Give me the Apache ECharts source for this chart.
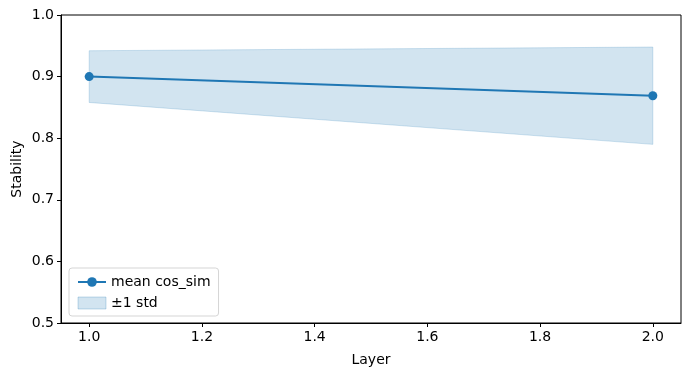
<!DOCTYPE html>
<html>
<head>
<meta charset="utf-8">
<script src="https://cdn.jsdelivr.net/npm/echarts@6/dist/echarts.min.js"></script>
<style>
  html, body { margin: 0; padding: 0; background: #fff; }
  #container { width: 691px; height: 376px; }
</style>
</head>
<body>
<div id="container"></div>
<script>
var layers = [1, 2];
var meanCos = [0.900, 0.869];
var upperBand = [0.942, 0.948];
var lowerBand = [0.858, 0.790];
var xTicks = [1.0, 1.2, 1.4, 1.6, 1.8, 2.0];

var dom = document.getElementById("container");
var myChart = echarts.init(dom);

var blue = '#1f77b4';
var font = 'DejaVu Sans';

var meanData = layers.map(function (x, i) { return [x, meanCos[i]]; });
var bandData = layers.map(function (x, i) { return [x, lowerBand[i], upperBand[i]]; });

function renderBand(params, api) {
    if (params.dataIndex !== 0) return;
    var top = [], bottom = [];
    for (var i = 0; i < bandData.length; i++) {
        top.push(api.coord([bandData[i][0], bandData[i][2]]));
        bottom.unshift(api.coord([bandData[i][0], bandData[i][1]]));
    }
    return {
        type: 'polygon',
        shape: { points: top.concat(bottom) },
        style: {
            fill: 'rgba(31,119,180,0.2)',
            stroke: 'rgba(31,119,180,0.2)',
            lineWidth: 1
        }
    };
}

option = {
    animation: false,
    textStyle: { fontFamily: font },
    grid: {
        left: 61,
        right: 10,
        top: 15,
        bottom: 53,
        outerBoundsMode: 'none',
        containLabel: false,
        show: true,
        borderColor: '#000',
        borderWidth: 1,
        backgroundColor: 'transparent'
    },
    legend: {
        orient: 'vertical',
        left: 69,
        bottom: 60,
        padding: [7, 8, 6, 8],
        itemGap: 7,
        itemWidth: 28,
        itemHeight: 12,
        backgroundColor: '#fff',
        borderColor: '#d5d5d5',
        borderWidth: 1,
        borderRadius: 3,
        textStyle: { fontFamily: font, fontSize: 14, color: '#000' },
        data: [
            { name: 'mean cos_sim' },
            { name: '±1 std', icon: 'rect', itemStyle: { color: 'rgba(31,119,180,0.2)', borderColor: 'rgba(31,119,180,0.25)', borderWidth: 1 } }
        ]
    },
    xAxis: {
        type: 'value',
        min: 0.95,
        max: 2.05,
        name: 'Layer',
        nameLocation: 'middle',
        nameGap: 30,
        nameMoveOverlap: false,
        nameTextStyle: { fontFamily: font, fontSize: 14, color: '#000' },
        splitLine: { show: false },
        axisLine: { lineStyle: { color: '#000', width: 1 } },
        axisTick: { show: true, length: 4, lineStyle: { color: '#000' }, customValues: xTicks },
        axisLabel: {
            customValues: xTicks,
            fontFamily: font, fontSize: 14, color: '#000', margin: 7,
            formatter: function (v) { return v.toFixed(1); }
        }
    },
    yAxis: {
        type: 'value',
        min: 0.5,
        max: 1.0,
        interval: 0.1,
        name: 'Stability',
        nameLocation: 'middle',
        nameGap: 37,
        nameMoveOverlap: false,
        nameTextStyle: { fontFamily: font, fontSize: 14, color: '#000' },
        splitLine: { show: false },
        axisLine: { show: true, lineStyle: { color: '#000', width: 1 } },
        axisTick: { show: true, length: 4, lineStyle: { color: '#000' } },
        axisLabel: {
            fontFamily: font, fontSize: 14, color: '#000', margin: 7,
            formatter: function (v) { return v.toFixed(1); }
        }
    },
    series: [
        {
            name: '±1 std',
            type: 'custom',
            renderItem: renderBand,
            data: bandData,
            encode: { x: 0, y: [1, 2] },
            itemStyle: { color: 'rgba(31,119,180,0.2)' },
            z: 1
        },
        {
            name: 'mean cos_sim',
            type: 'line',
            data: meanData,
            symbol: 'circle',
            symbolSize: 9,
            lineStyle: { color: blue, width: 2 },
            itemStyle: { color: blue },
            z: 3
        }
    ]
};

if (option && typeof option === "object") {
    myChart.setOption(option, true);
}
</script>
</body>
</html>
